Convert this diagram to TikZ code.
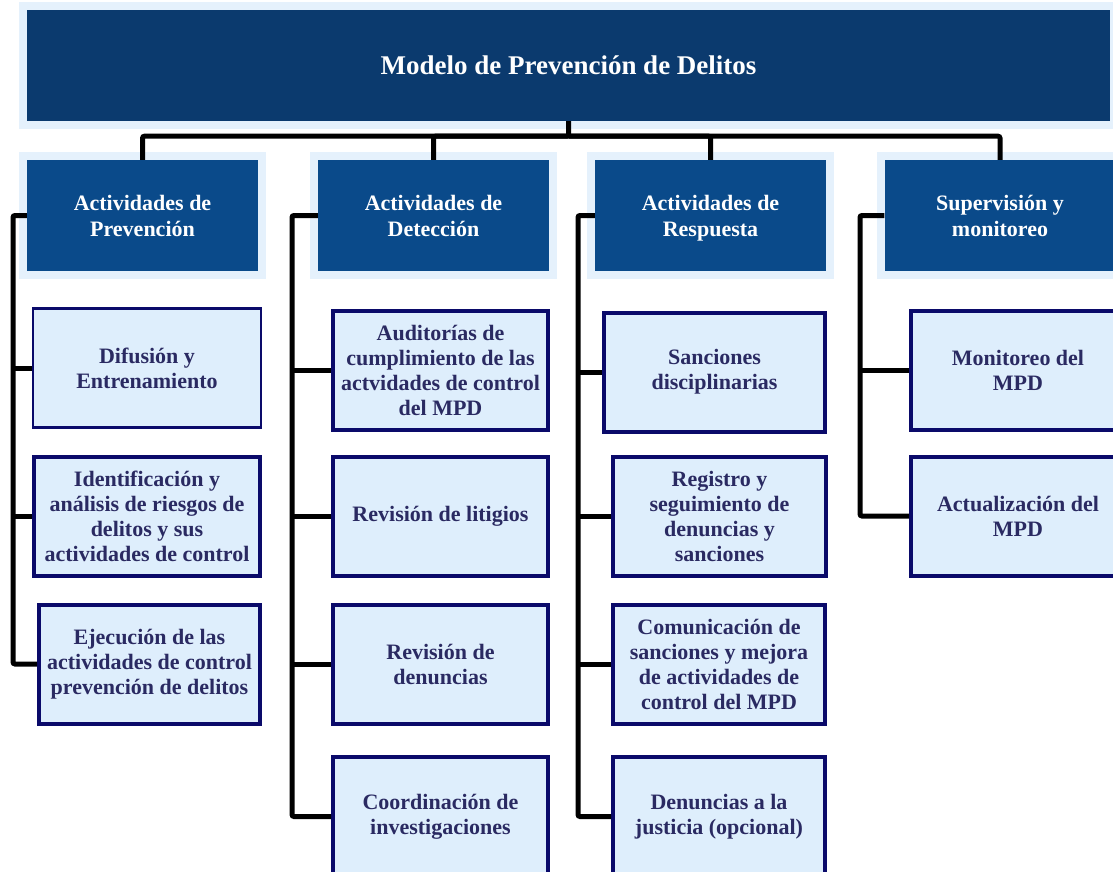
\documentclass[tikz,border=0pt]{standalone}
\usepackage{fontspec}
\setmainfont{Liberation Serif}
\usepackage{xcolor}
\usepackage{tikz}
\definecolor{topblue}{HTML}{0B3A6E}
\definecolor{headblue}{HTML}{0A4A8A}
\definecolor{haloblue}{HTML}{E5F1FC}
\definecolor{leaffill}{HTML}{DEEEFC}
\definecolor{leafline}{HTML}{0A0A6A}
\definecolor{leaftext}{HTML}{2A2A62}
\begin{document}
\begin{tikzpicture}[x=1pt,y=-1pt,
  halo/.style={preaction={draw=haloblue,line width=16pt,rounded corners=4pt}},
  title/.style={halo,fill=topblue,text=white,minimum width=1083pt,minimum height=111pt,
    font=\fontsize{27}{30}\selectfont\bfseries},
  head/.style={halo,fill=headblue,text=white,minimum width=231pt,minimum height=111pt,
    align=center,text depth=0pt,font=\fontsize{22}{26}\selectfont\bfseries},
  leaf/.style={draw=leafline,line width=4pt,fill=leaffill,text=leaftext,
    minimum height=119pt,align=center,font=\fontsize{22}{25}\selectfont\bfseries},
  conn/.style={draw=black,line width=5pt,rounded corners=2pt}]
\path[use as bounding box,clip] (0,0) rectangle (1113,871);
\fill[white] (0,0) rectangle (1113,871);

\node[title] (mpd) at (568.5,65.5) {Modelo de Prevención de Delitos};

\node[head] (prev) at (142.5,215.5) {Actividades de\\Prevención};
\node[head] (det) at (433.5,215.5) {Actividades de\\Detección};
\node[head] (resp) at (710.5,215.5) {Actividades de\\Respuesta};
\node[head] (sup) at (1000,215.5) {Supervisión y\\monitoreo};

\node[leaf,line width=2.5pt,minimum width=228pt] (dif) at (147,368) {Difusión y\\Entrenamiento};
\node[leaf,minimum width=226pt] (iden) at (147,516) {Identificación y\\análisis de riesgos de\\delitos y sus\\actividades de control};
\node[leaf,minimum width=221pt] (ejec) at (149.5,664) {Ejecución de las\\actividades de control\\prevención de delitos};

\node[leaf,minimum width=215pt] (aud) at (440.5,370.5) {Auditorías de\\cumplimiento de las\\actvidades de control\\del MPD};
\node[leaf,minimum width=215pt] (lit) at (440.5,516) {Revisión de litigios};
\node[leaf,minimum width=215pt] (den) at (440.5,664) {Revisión de\\denuncias};
\node[leaf,minimum width=215pt] (coord) at (440.5,816.5) {Coordinación de\\investigaciones};

\node[leaf,minimum width=221pt] (sanc) at (714.5,372) {Sanciones\\disciplinarias};
\node[leaf,minimum width=213pt] (reg) at (719.5,516) {Registro y\\seguimiento de\\denuncias y\\sanciones};
\node[leaf,minimum width=212pt] (com) at (719,664) {Comunicación de\\sanciones y mejora\\de actividades de\\control del MPD};
\node[leaf,minimum width=212pt] (just) at (719,816.5) {Denuncias a la\\justicia (opcional)};

\node[leaf,minimum width=214pt] (mon) at (1018,370.5) {Monitoreo del\\MPD};
\node[leaf,minimum width=214pt] (act) at (1018,516) {Actualización del\\MPD};

\path (mpd.south) ++(0,15) coordinate (hub);
\draw[conn] (mpd.south) -- (hub) -| (prev.north);
\draw[conn] (hub) -| (det.north);
\draw[conn] (hub) -| (resp.north);
\draw[conn] (hub) -| (sup.north);

\coordinate (busP) at (13,0);
\coordinate (busD) at (292,0);
\coordinate (busR) at (578,0);
\coordinate (busS) at (860,0);

\draw[conn] (prev.west) -| (ejec.west -| busP) -- (ejec.west);
\draw[conn] (dif.west -| busP) -- (dif.west);
\draw[conn] (iden.west -| busP) -- (iden.west);

\draw[conn] (det.west) -| (coord.west -| busD) -- (coord.west);
\draw[conn] (aud.west -| busD) -- (aud.west);
\draw[conn] (lit.west -| busD) -- (lit.west);
\draw[conn] (den.west -| busD) -- (den.west);

\draw[conn] (resp.west) -| (just.west -| busR) -- (just.west);
\draw[conn] (sanc.west -| busR) -- (sanc.west);
\draw[conn] (reg.west -| busR) -- (reg.west);
\draw[conn] (com.west -| busR) -- (com.west);

\draw[conn] (sup.west) -| (act.west -| busS) -- (act.west);
\draw[conn] (mon.west -| busS) -- (mon.west);
\end{tikzpicture}
\end{document}
